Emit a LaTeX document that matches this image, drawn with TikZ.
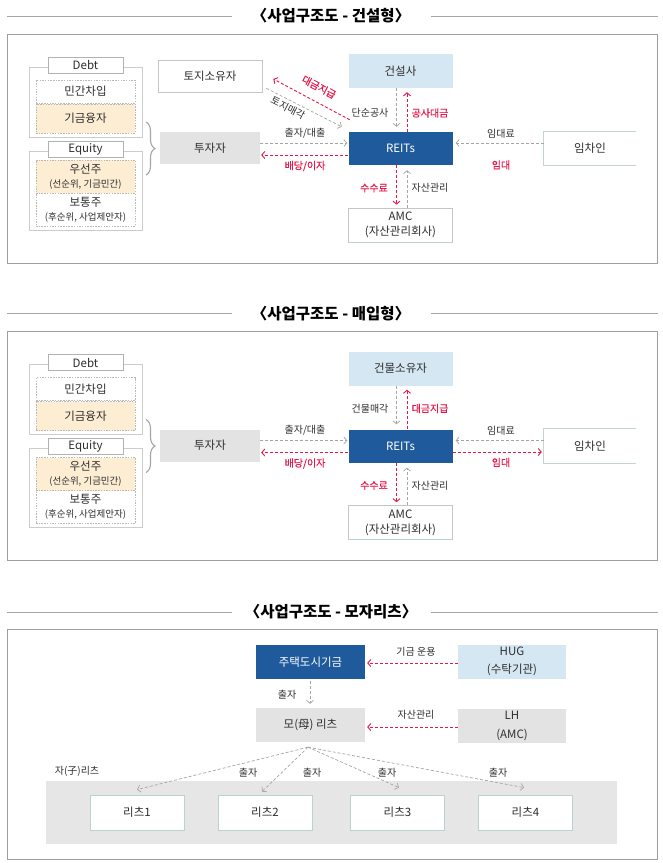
\documentclass[tikz,border=0pt]{standalone}
\usepackage{fontspec}
\setmainfont{Noto Sans CJK KR}
\usetikzlibrary{arrows.meta,decorations.pathreplacing,calc}
\definecolor{reitblue}{HTML}{1F5B9C}
\definecolor{lblue}{HTML}{D5E7F2}
\definecolor{boxgrey}{HTML}{E3E3E3}
\definecolor{bandgrey}{HTML}{E6E6E6}
\definecolor{beige}{HTML}{FCEDD3}
\definecolor{redc}{HTML}{E8174A}
\definecolor{arrgrey}{HTML}{A5A5A5}
\definecolor{framegrey}{HTML}{9E9E9E}
\definecolor{txt}{HTML}{2E2E2E}
\definecolor{tealb}{HTML}{B9D3D3}
\definecolor{tenb}{HTML}{C6D3D3}
\newcommand\subsz{\fontsize{9.5}{11}\selectfont}
\tikzset{
  box/.style={minimum width=104pt, minimum height=33pt, inner sep=0pt, align=center,
    font=\fontsize{11.5}{15}\selectfont, text=txt},
  wbox/.style={box, draw=gray!45, fill=white, line width=0.6pt},
  gbox/.style={box, fill=boxgrey},
  lbbox/.style={box, fill=lblue},
  bbox/.style={box, fill=reitblue, text=white},
  openbox/.style={box, fill=white},
  openline/.style={draw=tenb, line width=0.8pt},
  rzbox/.style={box, draw=tealb, fill=white, line width=0.8pt, minimum width=94pt, minimum height=35pt},
  tabbox/.style={box, draw=gray!60, fill=white, line width=0.6pt, minimum width=75pt, minimum height=16pt},
  dbox/.style={box, draw=gray!55, dash pattern=on 1.5pt off 1.2pt, line width=0.5pt, minimum width=99pt},
  stack/.style={draw=gray!40, line width=1pt, fill=white},
  frame/.style={draw=framegrey, line width=0.9pt},
  tline/.style={draw=gray!70, line width=0.8pt},
  ttl/.style={font=\fontsize{15.5}{17}\selectfont\bfseries, text=black, inner sep=0pt},
  garr/.style={draw=arrgrey, dash pattern=on 3pt off 2pt, line width=0.7pt,
    -{Straight Barb[length=3pt,width=7pt]}},
  rarr/.style={draw=redc, dash pattern=on 3pt off 2pt, line width=0.9pt,
    -{Straight Barb[length=3pt,width=7pt]}},
  lab/.style={font=\fontsize{10}{11}\selectfont, text=txt, inner sep=0pt},
  rlab/.style={font=\fontsize{10}{11}\selectfont\addfontfeatures{FakeBold=0.3}, text=redc, inner sep=0pt},
  brc/.style={draw=gray!70, line width=1.1pt, decorate, decoration={brace, amplitude=9pt}},
  amcline/.style={draw=tealb, line width=1.2pt},
}
\begin{document}
\begin{tikzpicture}[x=1pt,y=-1pt]
\useasboundingbox (0,0) rectangle (662,863);
\fill[white] (0,0) rectangle (662,863);

% ================= Panel 1 =================
\node[ttl] (t1) at (331,16) {〈사업구조도 - 건설형〉};
\draw[tline] (7,16) -- (232,16);
\draw[tline] (431,16) -- (658,16);
\draw[frame] (7,34) rectangle (657,263);

\draw[stack] (29,67) rectangle (142,137);
\node[dbox, minimum height=23pt] (d1a) at (85.5,91.5) {민간차입};
\node[dbox, fill=beige, minimum height=29pt] (d1b) at (85.5,118.5) {기금융자};
\node[tabbox] (debt1) at (85.5,65) {Debt};
\draw[stack] (29,151) rectangle (142,230);
\node[dbox, fill=beige, minimum height=33pt] (e1a) at (85.5,176.5) {우선주\\[-1pt]{\subsz (선순위, 기금민간)}};
\node[dbox, minimum height=33pt] (e1b) at (85.5,209.5) {보통주\\[-1pt]{\subsz (후순위, 사업제안자)}};
\node[tabbox] (eq1) at (85.5,149) {Equity};
\draw[brc] (146,122) -- (146,175);

\node[gbox, minimum width=100pt, minimum height=32pt] (inv1) at (210,148) {투자자};
\node[wbox, minimum height=32pt] (land1) at (210,76) {토지소유자};
\node[lbbox, minimum height=34pt] (con1) at (400.5,71) {건설사};
\node[bbox] (r1) at (400.5,148.5) {REITs};
\node[openbox, minimum width=92pt] (ten1) at (590,148.5) {임차인};
\draw[openline] (ten1.north east) -- (ten1.north west) -- (ten1.south west) -- (ten1.south east);
\node[wbox, minimum height=34pt] (amc1) at (400.5,225) {AMC\\(자산관리회사)};
\draw[amcline] (amc1.south west) -- (amc1.south east);

\draw[garr, shorten >=1pt] ([yshift=5pt]inv1.east) -- ([yshift=5.5pt]r1.west);
\draw[rarr, shorten >=1pt] ([yshift=-6.5pt]r1.west) -- ([yshift=-7pt]inv1.east);
\node[lab] (l1a) at (305,133) {출자/대출};
\node[rlab] (l1b) at (305,166) {배당/이자};

\draw[garr] ([xshift=4pt,yshift=4pt]land1.south east) -- ([xshift=-6.5pt,yshift=5pt]r1.north west);
\draw[rarr] ([xshift=1.5pt,yshift=12pt]r1.north west) -- ([xshift=11pt,yshift=-3pt]land1.east);
\node[rlab, rotate=-28] (l1c) at (319,87) {대금지급};
\node[lab, rotate=-27] (l1d) at (288,108) {토지매각};

\draw[garr, shorten >=5pt] ([xshift=-4pt]con1.south) -- ([xshift=-4pt]r1.north);
\draw[rarr, shorten >=4pt] ([xshift=6.5pt]r1.north) -- ([xshift=6.5pt]con1.south);
\node[lab] (l1e) at (370,113) {단순공사};
\node[rlab] (l1f) at (430,113) {공사대금};

\draw[garr, shorten >=3pt] ([yshift=5.5pt]ten1.west) -- ([yshift=5.5pt]r1.east);
\node[lab] (l1g) at (501,134) {임대료};
\node[rlab] (l1h) at (501,165) {임대};

\draw[rarr, shorten >=3pt] ([xshift=-4pt]r1.south) -- ([xshift=-4pt]amc1.north);
\draw[garr, shorten >=5pt] ([xshift=6.5pt]amc1.north) -- ([xshift=6.5pt]r1.south);
\node[rlab] (l1i) at (374,188) {수수료};
\node[lab] (l1j) at (430,188) {자산관리};

% ================= Panel 2 =================
\begin{scope}[yshift=-297.5pt]
\node[ttl] (t2) at (331,16) {〈사업구조도 - 매입형〉};
\draw[tline] (7,16) -- (232,16);
\draw[tline] (431,16) -- (658,16);
\draw[frame] (7,34) rectangle (657,263);

\draw[stack] (29,67) rectangle (142,137);
\node[dbox, minimum height=23pt] (d2a) at (85.5,91.5) {민간차입};
\node[dbox, fill=beige, minimum height=29pt] (d2b) at (85.5,118.5) {기금융자};
\node[tabbox] (debt2) at (85.5,65) {Debt};
\draw[stack] (29,151) rectangle (142,230);
\node[dbox, fill=beige, minimum height=33pt] (e2a) at (85.5,176.5) {우선주\\[-1pt]{\subsz (선순위, 기금민간)}};
\node[dbox, minimum height=33pt] (e2b) at (85.5,209.5) {보통주\\[-1pt]{\subsz (후순위, 사업제안자)}};
\node[tabbox] (eq2) at (85.5,149) {Equity};
\draw[brc] (146,122) -- (146,175);

\node[gbox, minimum width=100pt, minimum height=32pt] (inv2) at (210,148) {투자자};
\node[lbbox, minimum height=34pt] (con2) at (400.5,71) {건물소유자};
\node[bbox] (r2) at (400.5,148.5) {REITs};
\node[openbox, minimum width=92pt, minimum height=34pt] (ten2) at (590,148.5) {임차인};
\draw[openline] (ten2.north east) -- (ten2.north west) -- (ten2.south west) -- (ten2.south east);
\node[wbox, minimum height=34pt] (amc2) at (400.5,225) {AMC\\(자산관리회사)};
\draw[amcline] (amc2.south west) -- (amc2.south east);

\draw[garr, shorten >=1pt] ([yshift=5pt]inv2.east) -- ([yshift=5.5pt]r2.west);
\draw[rarr, shorten >=1pt] ([yshift=-6.5pt]r2.west) -- ([yshift=-7pt]inv2.east);
\node[lab] (l2a) at (305,133) {출자/대출};
\node[rlab] (l2b) at (305,166) {배당/이자};

\draw[garr, shorten >=5pt] ([xshift=-4pt]con2.south) -- ([xshift=-4pt]r2.north);
\draw[rarr, shorten >=4pt] ([xshift=6.5pt]r2.north) -- ([xshift=6.5pt]con2.south);
\node[lab] (l2e) at (370,111) {건물매각};
\node[rlab] (l2f) at (430,111) {대금지급};

\draw[garr, shorten >=3pt] ([yshift=5.5pt]ten2.west) -- ([yshift=5.5pt]r2.east);
\draw[rarr, shorten >=2pt] ([yshift=-6pt]r2.east) -- ([yshift=-6pt]ten2.west);
\node[lab] (l2g) at (501,133) {임대료};
\node[rlab] (l2h) at (501,165) {임대};

\draw[rarr, shorten >=3pt] ([xshift=-4pt]r2.south) -- ([xshift=-4pt]amc2.north);
\draw[garr, shorten >=5pt] ([xshift=6.5pt]amc2.north) -- ([xshift=6.5pt]r2.south);
\node[rlab] (l2i) at (374,188) {수수료};
\node[lab] (l2j) at (430,188) {자산관리};
\end{scope}

% ================= Panel 3 =================
\node[ttl] (t3) at (331,612) {〈사업구조도 - 모자리츠〉};
\draw[tline] (7,612) -- (232,612);
\draw[tline] (431,612) -- (658,612);
\draw[frame] (7,629) rectangle (657,859);

\fill[bandgrey] (46,781) rectangle (617,844);
\node[lab] (zr) at (77,771) {자(子)리츠};

\node[bbox, minimum width=109pt, minimum height=34pt] (fund) at (310.5,662) {주택도시기금};
\node[lbbox, minimum width=108pt, minimum height=34pt, font=\fontsize{11.5}{18}\selectfont] (hug) at (512,661.5) {HUG\\(수탁기관)};
\node[gbox, minimum width=109pt, minimum height=34pt] (mo) at (310.5,725) {모(母) 리츠};
\node[gbox, minimum width=108pt, minimum height=34pt, font=\fontsize{11.5}{19}\selectfont] (lh) at (512,726) {LH\\(AMC)};

\node[rzbox] (rz1) at (137,812.5) {리츠1};
\node[rzbox] (rz2) at (265,812.5) {리츠2};
\node[rzbox] (rz3) at (397.5,812.5) {리츠3};
\node[rzbox] (rz4) at (525.5,812.5) {리츠4};

\draw[rarr, shorten >=2pt] ([yshift=-1.5pt]hug.west) -- ([yshift=-1pt]fund.east);
\node[lab] (l3a) at (416,652) {기금 운용};
\draw[rarr, shorten >=2pt] ([yshift=-1pt]lh.west) -- ([yshift=-2pt]mo.east);
\node[lab] (l3b) at (416,715) {자산관리};
\draw[garr, shorten >=4pt] ([xshift=-0.5pt,yshift=-2pt]fund.south) -- ([xshift=-0.5pt]mo.north);
\node[lab] (l3c) at (287,695) {출자};

\coordinate (apex) at ([xshift=-2.5pt,yshift=-5pt]mo.south);
\draw[garr] (apex) -- ([yshift=5pt]rz1.north);
\draw[garr] (apex) -- ([xshift=-3pt,yshift=3pt]rz2.north);
\draw[garr] (apex) -- ([xshift=1.5pt,yshift=7pt]rz3.north);
\draw[garr] (apex) -- ([xshift=-1.5pt,yshift=7pt]rz4.north);
\node[lab] (l3d) at (248,773) {출자};
\node[lab] (l3e) at (312,773) {출자};
\node[lab] (l3f) at (387,773) {출자};
\node[lab] (l3g) at (498,773) {출자};
\end{tikzpicture}
\end{document}
